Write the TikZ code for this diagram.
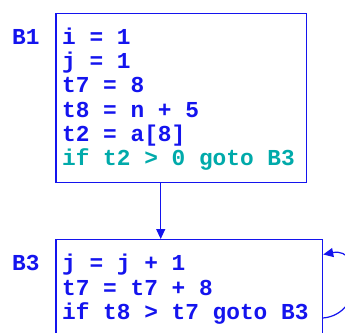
\documentclass[tikz,border=0pt]{standalone}
\usepackage{fontspec}
\setmonofont{Liberation Mono}
\usetikzlibrary{arrows.meta,calc}
\definecolor{cblue}{RGB}{20,20,238}
\definecolor{cteal}{RGB}{0,170,170}
\tikzset{
  blockbox/.style={draw=cblue, line width=1.2pt, inner sep=0pt, anchor=north west},
  code/.style={text=cblue, inner sep=0pt, anchor=base west,
    font=\ttfamily\bfseries\fontsize{22.8pt}{24.3pt}\selectfont},
  edge/.style={draw=cblue, line width=1.2pt, -{Triangle[length=10pt,width=9pt]}}
}
\begin{document}
\begin{tikzpicture}[x=1pt,y=-1pt]
\useasboundingbox (0,0) rectangle (345,332);
\node[blockbox, minimum width=250.5pt, minimum height=169pt] (b1) at (55.3,12.7) {};
\node[blockbox, minimum width=266.7pt, minimum height=110pt] (b3) at (55.3,239) {};
\node[code] (l1) at (12,44.3) {B1};
\node[code] (l3) at (12,270.7) {B3};
\node[code] (a1) at (62,44.3) {i = 1};
\node[code] (a2) at (62,68.6) {j = 1};
\node[code] (a3) at (62,92.9) {t7 = 8};
\node[code] (a4) at (62,117.2) {t8 = n + 5};
\node[code] (a5) at (62,141.5) {t2 = a[8]};
\node[code, text=cteal] (a6) at (62,165.8) {if t2 > 0 goto B3};
\node[code] (c1) at (62,270.7) {j = j + 1};
\node[code] (c2) at (62,295) {t7 = t7 + 8};
\node[code] (c3) at (62,319.3) {if t8 > t7 goto B3};
\coordinate (s1) at ($(b1.south west)+(105.4,0)$);
\draw[edge] (s1) -- (s1 |- b3.north);
\coordinate (lo) at ($(b3.north east)+(0,79)$);
\coordinate (li) at ($(b3.north east)+(0,15.5)$);
\draw[edge] (lo) .. controls ($(lo)+(42,-4)$) and ($(li)+(40,-8)$) .. (li);
\end{tikzpicture}
\end{document}
